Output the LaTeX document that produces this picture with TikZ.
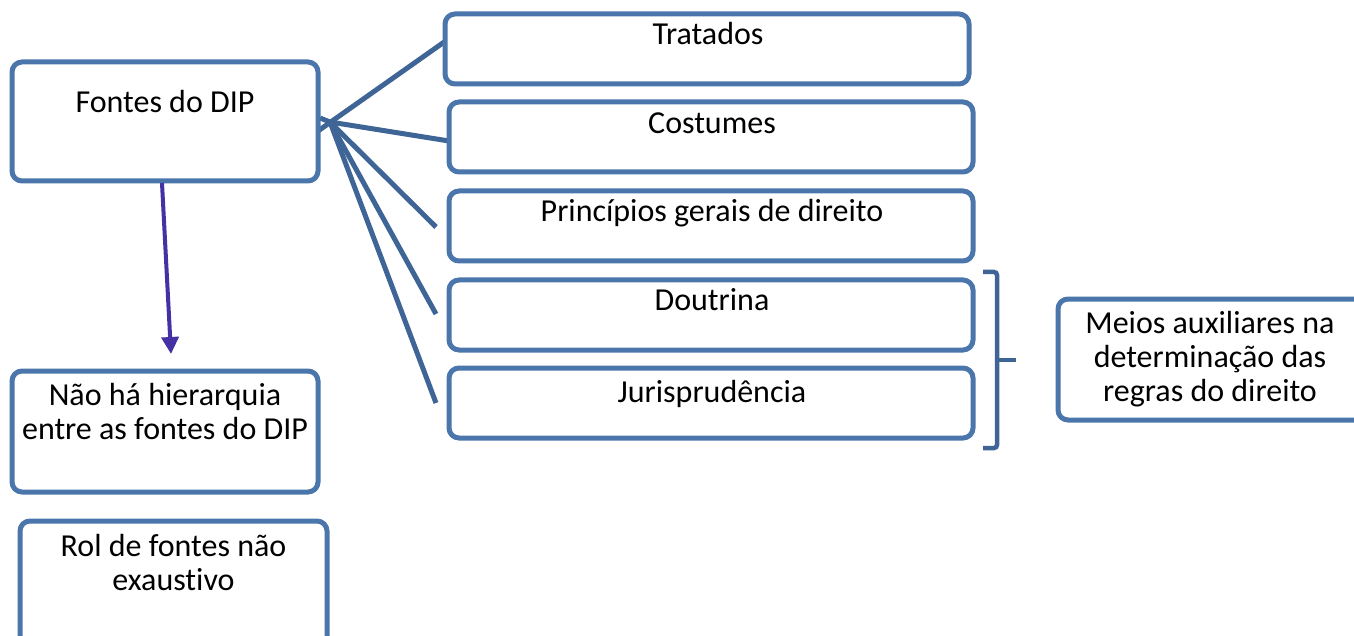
\documentclass[tikz,border=0pt]{standalone}
\usepackage{fontspec}
\setmainfont{Carlito}[Ligatures=NoCommon]
\usetikzlibrary{arrows.meta}
\definecolor{boxblue}{HTML}{4A76AB}
\definecolor{linkblue}{HTML}{3F6597}
\definecolor{arrowpurple}{HTML}{4531A3}
\begin{document}
\begin{tikzpicture}[x=1pt,y=-1pt,
  box/.style={draw=boxblue, line width=5pt, rounded corners=10pt, fill=white, inner sep=0pt},
  lbl/.style={font=\fontsize{32}{34}\selectfont, align=center, inner sep=0pt, anchor=base},
  link/.style={draw=linkblue, line width=5pt}]
\useasboundingbox (0,0) rectangle (1354,636);
\clip (0,0) rectangle (1354,636);
% connectors first
\coordinate (hub) at (330,122);
\coordinate (p3) at (436,227);
\coordinate (p4) at (436,314);
\coordinate (p5) at (436,403);
\coordinate (s1) at (318,131);
\coordinate (s2) at (320,118);
\coordinate (e1) at (447,40);
\coordinate (e2) at (449,141);
\draw[link] (s1) -- (e1);
\draw[link] (s2) -- (hub) -- (e2);
\draw[link] (hub) -- (p3);
\draw[link] (hub) -- (p4);
\draw[link] (hub) -- (p5);
% boxes
\node[box, minimum width=306pt, minimum height=119pt] (fontes) at (165,121.5) {};
\node[lbl] (tfontes) at (165,113) {Fontes do DIP};
\node[box, minimum width=524pt, minimum height=70pt] (trat) at (707,49) {};
\node[lbl] (ttrat) at (708,45) {Tratados};
\node[box, minimum width=524pt, minimum height=70pt] (cost) at (711,137) {};
\node[lbl] (tcost) at (712,134) {Costumes};
\node[box, minimum width=524pt, minimum height=70pt] (princ) at (711,226) {};
\node[lbl] (tprinc) at (712,222) {Princípios gerais de direito};
\node[box, minimum width=524pt, minimum height=70pt] (dout) at (711,315) {};
\node[lbl] (tdout) at (712,310) {Doutrina};
\node[box, minimum width=524pt, minimum height=70pt] (juris) at (711,403) {};
\node[lbl] (tjuris) at (712,402) {Jurisprudência};
\node[box, minimum width=320pt, minimum height=121pt] (meios) at (1218,359.5) {};
\node[lbl] (tmeios) at (1210,401) {Meios auxiliares na\\determinação das\\regras do direito};
\node[box, minimum width=306pt, minimum height=121pt] (nao) at (165,431.5) {};
\node[lbl] (tnao) at (165,439) {Não há hierarquia\\entre as fontes do DIP};
\node[box, minimum width=307pt, minimum height=140pt] (rol) at (173.5,591) {};
\node[lbl] (trol) at (173.5,590) {Rol de fontes não\\exaustivo};
% arrow
\coordinate (astart) at (162,183);
\coordinate (arrtip) at (171,354);
\draw[arrowpurple, line width=4pt, -{Triangle[length=17pt,width=17pt]}] (astart) -- (arrtip);
% bracket
\coordinate (bt) at (983,272);
\coordinate (bb) at (983,448);
\coordinate (bm) at (997,360);
\coordinate (btick) at (1016,360);
\draw[link, line width=4.5pt, rounded corners=3pt] (bt) -- (997,272) -- (997,448) -- (bb);
\draw[link, line width=4.5pt] (bm) -- (btick);
\end{tikzpicture}
\end{document}
